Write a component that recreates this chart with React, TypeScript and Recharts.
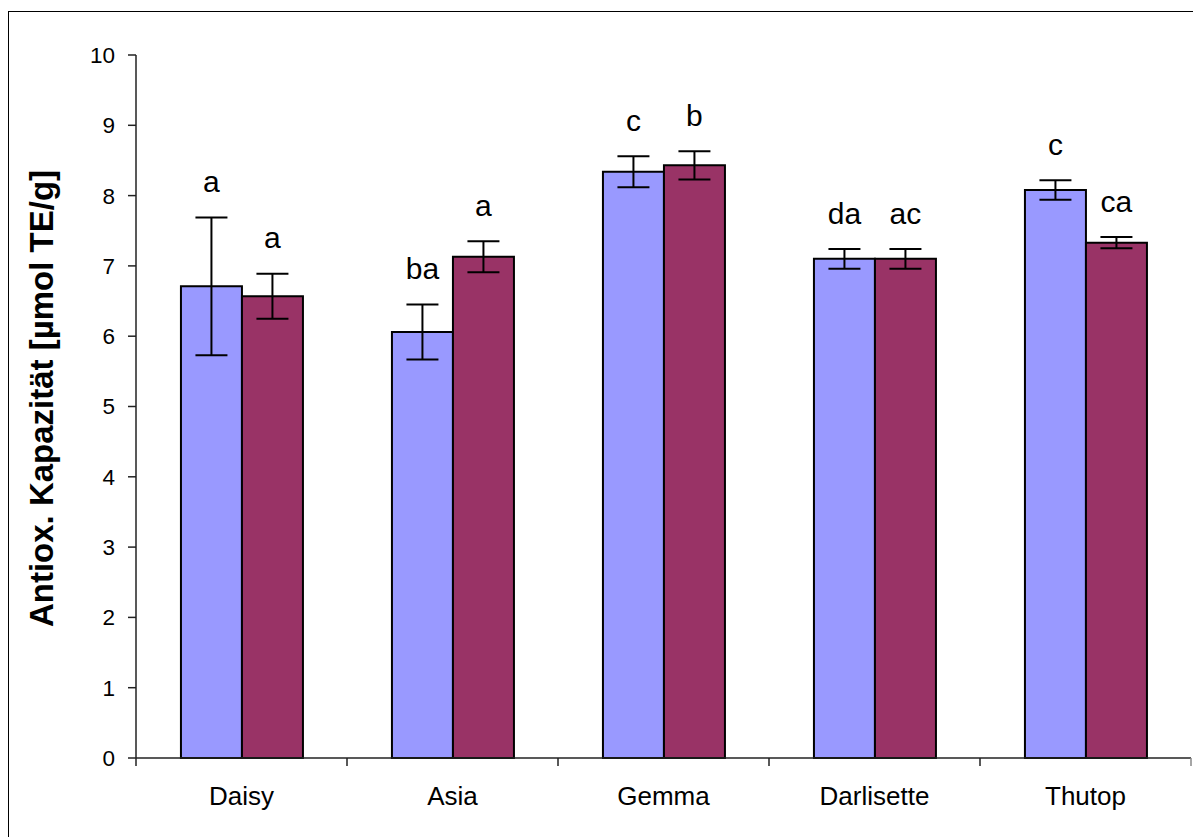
import {
  BarChart,
  Bar,
  XAxis,
  YAxis,
  ErrorBar,
  LabelList,
  Label,
} from "recharts";

const categories = ["Daisy", "Asia", "Gemma", "Darlisette", "Thutop"];
const seriesA = [6.71, 6.06, 8.34, 7.1, 8.08];
const seriesAErr = [0.98, 0.39, 0.22, 0.14, 0.14];
const seriesALetters = ["a", "ba", "c", "da", "c"];
const seriesB = [6.57, 7.13, 8.43, 7.1, 7.33];
const seriesBErr = [0.32, 0.22, 0.2, 0.14, 0.08];
const seriesBLetters = ["a", "a", "b", "ac", "ca"];
const yTicks = [0, 1, 2, 3, 4, 5, 6, 7, 8, 9, 10];

const data = categories.map((name, i) => ({
  name,
  a: seriesA[i],
  aErr: seriesAErr[i],
  aLetter: seriesALetters[i],
  b: seriesB[i],
  bErr: seriesBErr[i],
  bLetter: seriesBLetters[i],
}));

const W = 1193;
const H = 829;
const margin = { top: 47, right: 10, bottom: 0, left: 0 };
const Y_AXIS_W = 128;
const X_AXIS_H = 79;
const band = (W - Y_AXIS_W - margin.right) / categories.length;
const font = "'Liberation Sans', Arial, sans-serif";

function CategoryTick(props: any) {
  const { x, y, payload, index } = props;
  const left = x - band / 2;
  const right = x + band / 2;
  return (
    <g>
      <line x1={left} x2={left} y1={y} y2={y + 8} stroke="#222" strokeWidth={1.5} />
      {index === categories.length - 1 && (
        <line x1={right} x2={right} y1={y} y2={y + 8} stroke="#888" strokeWidth={1.5} />
      )}
      <text
        x={x}
        y={y + 38}
        textAnchor="middle"
        dominantBaseline="central"
        fontSize={26}
        fontFamily={font}
        fill="#000"
      >
        {payload.value}
      </text>
    </g>
  );
}

// letters sit a fixed distance above the top of each error bar
function letterLabel(valueKey: "a" | "b", errKey: "aErr" | "bErr") {
  return (props: any) => {
    const { x, y, width, height, value, index } = props;
    const row = data[index];
    if (!row) return null;
    const perUnit = height / row[valueKey];
    const errTop = y - row[errKey] * perUnit;
    return (
      <text
        x={x + width / 2}
        y={errTop - 36}
        textAnchor="middle"
        dominantBaseline="central"
        fontSize={30}
        fontFamily={font}
        fill="#000"
      >
        {value}
      </text>
    );
  };
}

export default function App() {
  return (
    <div style={{ position: "relative", width: W, height: H, overflow: "hidden", background: "#fff" }}>
      <div
        style={{
          position: "absolute",
          left: 0,
          top: 3,
          width: W + 50,
          height: H + 50,
          borderLeft: "1.5px solid #000",
          borderTop: "1.5px solid #000",
        }}
      />
      <BarChart
        width={W}
        height={H}
        data={data}
        margin={margin}
        barCategoryGap="21.3%"
        barGap={0}
        style={{ position: "absolute", left: 0, top: 0, fontFamily: font }}
      >
        <XAxis
          dataKey="name"
          height={X_AXIS_H}
          tickLine={false}
          tickSize={0}
          tickMargin={0}
          axisLine={{ stroke: "#222", strokeWidth: 1.5 }}
          tick={<CategoryTick />}
          interval={0}
        />
        <XAxis
          xAxisId="top"
          dataKey="name"
          orientation="top"
          height={0}
          tick={false}
          tickLine={false}
          axisLine={{ stroke: "#888", strokeWidth: 1.5 }}
        />
        <YAxis
          domain={[0, 10]}
          ticks={yTicks}
          width={Y_AXIS_W}
          tickSize={8}
          tickMargin={13}
          interval={0}
          axisLine={{ stroke: "#222", strokeWidth: 1.5 }}
          tickLine={{ stroke: "#222", strokeWidth: 1.5 }}
          tick={{ fontSize: 22.5, fill: "#000", fontFamily: font }}
        >
          <Label
            content={(p: any) => {
              const vb = p.viewBox;
              const cx = 33;
              const cy = vb.y + vb.height / 2 - 8;
              return (
                <text
                  x={cx}
                  y={cy}
                  transform={`rotate(-90 ${cx} ${cy})`}
                  textAnchor="middle"
                  dominantBaseline="central"
                  fontSize={33}
                  fontWeight="bold"
                  fontFamily={font}
                  fill="#000"
                >
                  Antiox. Kapazität [µmol TE/g]
                </text>
              );
            }}
          />
        </YAxis>
        <YAxis
          yAxisId="right"
          orientation="right"
          width={0}
          domain={[0, 10]}
          tick={false}
          tickLine={false}
          axisLine={{ stroke: "#888", strokeWidth: 1.5 }}
        />
        <Bar dataKey="a" fill="#9999FF" stroke="#000" strokeWidth={2} isAnimationActive={false}>
          <ErrorBar dataKey="aErr" width={16} stroke="#000" strokeWidth={2} direction="y" isAnimationActive={false} />
          <LabelList dataKey="aLetter" content={letterLabel("a", "aErr")} />
        </Bar>
        <Bar dataKey="b" fill="#993366" stroke="#000" strokeWidth={2} isAnimationActive={false}>
          <ErrorBar dataKey="bErr" width={16} stroke="#000" strokeWidth={2} direction="y" isAnimationActive={false} />
          <LabelList dataKey="bLetter" content={letterLabel("b", "bErr")} />
        </Bar>
      </BarChart>
    </div>
  );
}
